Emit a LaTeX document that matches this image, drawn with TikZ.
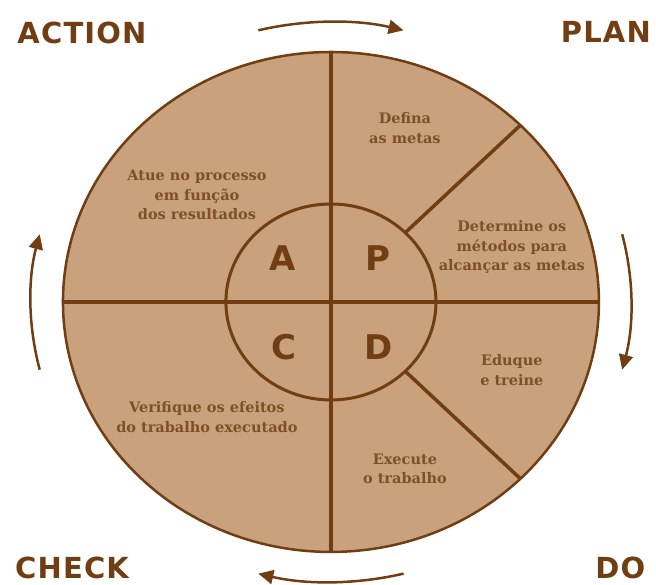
\documentclass[tikz,border=0pt]{standalone}
\usepackage{fontspec}
\usepackage{tikz}
\usetikzlibrary{arrows.meta}
\newfontfamily\phasefont[LetterSpace=4]{DejaVu Sans}
\newfontfamily\letterfont{DejaVu Sans}
\newfontfamily\taskfont{DejaVu Serif}
\definecolor{pdcafill}{RGB}{201,162,125}
\definecolor{pdcaline}{RGB}{112,62,18}
\definecolor{pdcatext}{RGB}{125,80,38}
\pgfdeclarelayer{edgelayer}
\pgfdeclarelayer{nodelayer}
\pgfsetlayers{edgelayer,nodelayer,main}
\tikzstyle{none}=[inner sep=0pt]
\tikzstyle{phase}=[inner sep=0pt, text=pdcaline, font=\phasefont\bfseries\fontsize{29}{29}\selectfont]
\tikzstyle{letter}=[inner sep=0pt, text=pdcaline, font=\letterfont\bfseries\fontsize{34}{34}\selectfont]
\tikzstyle{task}=[inner sep=0pt, align=center, text=pdcatext, font=\taskfont\bfseries\fontsize{14.5}{19.5}\selectfont]
\tikzstyle{sector}=[draw=pdcaline, line width=3.5pt]
\tikzstyle{cycle arrow}=[draw=pdcaline, line width=2.5pt, -{Triangle[length=15pt, width=14pt]}]

\begin{document}
\begin{tikzpicture}[x=26.8pt, y=25pt]
			\useasboundingbox (-12.35, 12.08) rectangle (12.13, -11.32);
			\begin{pgfonlayer}{nodelayer}
			\node [style=none] (0) at (0, 0) {};
			\node [style=none] (1) at (-10, 0) {};
			\node [style=none] (2) at (10, 0) {};
			\node [style=none] (3) at (0, 10) {};
			\node [style=none] (4) at (0, -10) {};
			\node [style=none] (5) at (45:3.92) {};
			\node [style=none] (6) at (45:10) {};
			\node [style=none] (7) at (-45:3.92) {};
			\node [style=none] (8) at (-45:10) {};
			\node [style=letter] (10) at (-1.8, 1.76) {A};
			\node [style=letter] (11) at (1.76, 1.76) {P};
			\node [style=letter] (12) at (-1.74, -1.8) {C};
			\node [style=letter] (13) at (1.76, -1.8) {D};
			\node [style=task] (14) at (2.76, 6.96) {Defina\\as metas};
			\node [style=task] (15) at (6.75, 2.2) {Determine os\\métodos para\\alcançar as metas};
			\node [style=task] (16) at (6.75, -2.72) {Eduque\\e treine};
			\node [style=task] (17) at (2.76, -6.68) {Execute\\o trabalho};
			\node [style=task] (18) at (-4.63, -4.6) {Verifique os efeitos\\do trabalho executado};
			\node [style=task] (19) at (-5.0, 4.28) {Atue no processo\\em função\\dos resultados};
			\node [style=phase] (20) at (-9.29, 10.76) {ACTION};
			\node [style=phase] (21) at (10.26, 10.8) {PLAN};
			\node [style=phase] (22) at (10.8, -10.62) {DO};
			\node [style=phase] (23) at (-9.66, -10.62) {CHECK};
			\node [style=none] (24) at (104:11.2) {};
			\node [style=none] (25) at (14:11.2) {};
			\node [style=none] (26) at (-76:11.2) {};
			\node [style=none] (27) at (194:11.2) {};
			\end{pgfonlayer}
			\begin{pgfonlayer}{edgelayer}
			\draw [fill=pdcafill, draw=pdcaline, line width=2.5pt] (0) circle [radius=10];
			\draw [style=sector, line width=4pt] (1) to (2);
			\draw [style=sector] (3) to (4);
			\draw [style=sector] (5) to (6);
			\draw [style=sector] (7) to (8);
			\draw [draw=pdcaline, line width=3pt] (0) circle [radius=3.92];
			\draw [style=cycle arrow] (24) arc [start angle=104, end angle=76, radius=11.2];
			\draw [style=cycle arrow] (25) arc [start angle=14, end angle=-14, radius=11.2];
			\draw [style=cycle arrow] (26) arc [start angle=-76, end angle=-104, radius=11.2];
			\draw [style=cycle arrow] (27) arc [start angle=194, end angle=166, radius=11.2];
			\end{pgfonlayer}
\end{tikzpicture}
\end{document}
